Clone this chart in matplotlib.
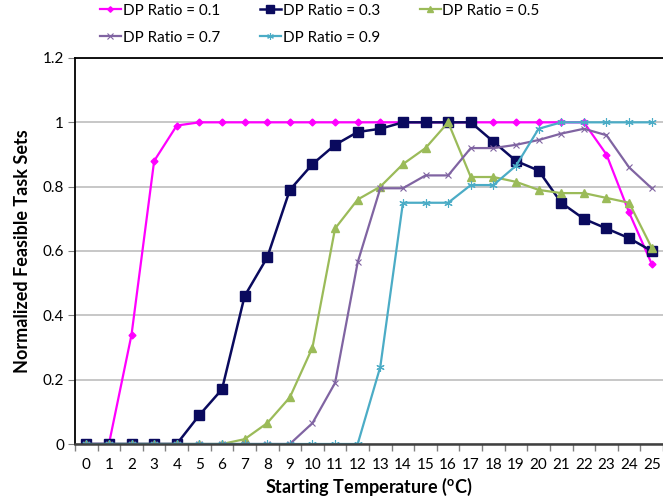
import matplotlib
matplotlib.use("Agg")
import matplotlib.pyplot as plt
from matplotlib.ticker import FixedLocator, MultipleLocator, FuncFormatter

plt.rcParams['font.family'] = ['Lato', 'DejaVu Sans']

temps = list(range(26))
tick_labels = [str(t) for t in temps]

dp_01 = [0, 0, 0.34, 0.88, 0.99, 1, 1, 1, 1, 1, 1, 1, 1, 1, 1, 1, 1, 1, 1, 1,
         1, 1, 1, 0.90, 0.72, 0.56]
dp_03 = [0, 0, 0, 0, 0, 0.09, 0.17, 0.46, 0.58, 0.79, 0.87, 0.93, 0.97, 0.98,
         1, 1, 1, 1, 0.94, 0.88, 0.85, 0.75, 0.70, 0.67, 0.64, 0.60]
dp_05 = [0, 0, 0, 0, 0, 0, 0, 0.015, 0.065, 0.145, 0.30, 0.67, 0.76, 0.80,
         0.87, 0.92, 1, 0.83, 0.83, 0.815, 0.79, 0.78, 0.78, 0.765, 0.75, 0.61]
dp_07 = [0, 0, 0, 0, 0, 0, 0, 0, 0, 0, 0.065, 0.19, 0.565, 0.795, 0.795,
         0.835, 0.835, 0.92, 0.92, 0.93, 0.945, 0.965, 0.98, 0.96, 0.86, 0.795]
dp_09 = [0, 0, 0, 0, 0, 0, 0, 0, 0, 0, 0, 0, 0, 0.24, 0.75, 0.75, 0.75,
         0.805, 0.805, 0.865, 0.98, 1, 1, 1, 1, 1]

series_labels = ['DP Ratio = 0.1', 'DP Ratio = 0.3', 'DP Ratio = 0.5',
                 'DP Ratio = 0.7', 'DP Ratio = 0.9']

fig = plt.figure(figsize=(6.63, 4.97), dpi=100)
ax = fig.add_axes([75 / 663, 1 - 444 / 497, 588 / 663, 386 / 497])

styles = [
    dict(color='#FF00FF', marker='D', markersize=3.5, lw=1.6),
    dict(color='#0A0A5E', marker='s', markersize=6.5, lw=1.8),
    dict(color='#9BBB59', marker='^', markersize=5.5, lw=1.6),
    dict(color='#8064A2', marker='x', markersize=5, lw=1.6, mew=0.8),
    dict(color='#4BACC6', marker=(6, 2, 0), markersize=6, lw=1.6, mew=0.8),
]

handles = []
for vals, lab, st in zip([dp_01, dp_03, dp_05, dp_07, dp_09], series_labels, styles):
    h, = ax.plot(temps, vals, label=lab, **st)
    handles.append(h)

ax.set_xlim(-0.5, 25.5)
ax.set_ylim(0, 1.2)

ax.yaxis.set_major_locator(MultipleLocator(0.2))
ax.yaxis.set_major_formatter(FuncFormatter(
    lambda v, p: '0' if abs(v) < 1e-9 else ('1' if abs(v - 1) < 1e-9 else f'{v:.1f}')))
ax.grid(axis='y', color='#BEBEBE', lw=1.2)
ax.set_axisbelow(True)

ax.xaxis.set_major_locator(FixedLocator(temps))
ax.set_xticklabels(tick_labels)
ax.xaxis.set_minor_locator(FixedLocator([t - 0.5 for t in temps] + [25.5]))
ax.tick_params(axis='x', which='major', length=0, labelsize=11, pad=10)
ax.tick_params(axis='x', which='minor', length=5, color='#808080', width=1)
ax.tick_params(axis='y', which='major', length=5, color='#808080', labelsize=11, pad=3)

ax.spines['right'].set_visible(False)
ax.spines['left'].set_color('black')
ax.spines['left'].set_linewidth(1.3)
ax.spines['top'].set_color('black')
ax.spines['top'].set_linewidth(1.3)
ax.spines['bottom'].set_color('#404040')
ax.spines['bottom'].set_linewidth(1.8)

ax.set_xlabel(r'Starting Temperature ($^{\mathregular{o}}$C)', fontsize=13,
              fontweight='bold', labelpad=3)
ax.set_ylabel('Normalized Feasible Task Sets', fontsize=13, fontweight='bold', labelpad=8)

# legend fills column by column, so interleave to get row-wise order
order = [0, 3, 1, 4, 2]
fig.legend(handles=[handles[i] for i in order], loc='upper left',
           bbox_to_anchor=(86 / 663, 1.02), ncol=3,
           frameon=False, fontsize=11, handlelength=1.4, handletextpad=0.1,
           columnspacing=2.6, labelspacing=0.85, markerscale=0.8)

fig.savefig('out.png', dpi=100)
